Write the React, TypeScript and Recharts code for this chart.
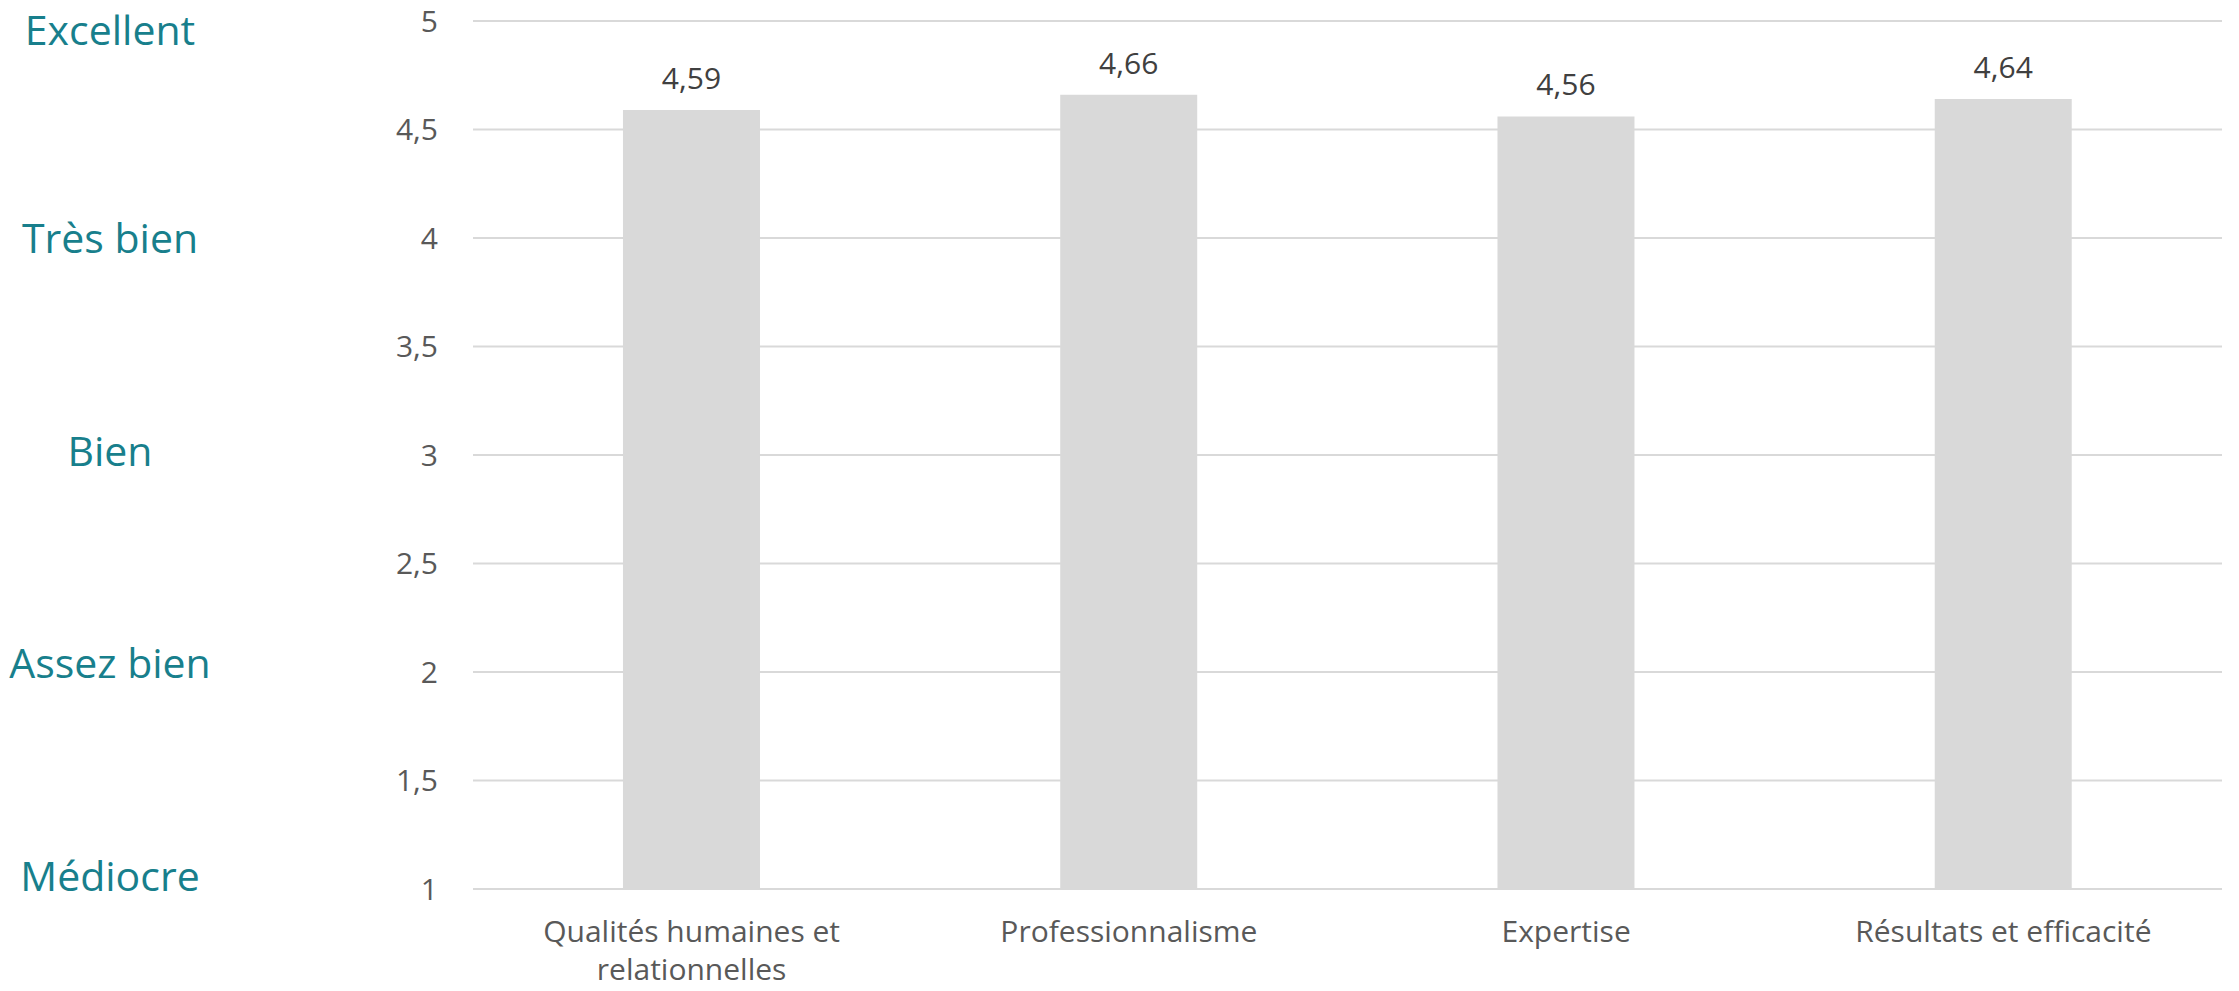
import React from "react";
import { BarChart, Bar, XAxis, YAxis, CartesianGrid, LabelList } from "recharts";

const categories = ["Qualités humaines et relationnelles", "Professionnalisme", "Expertise", "Résultats et efficacité"];
const scores = [4.59, 4.66, 4.56, 4.64];
const yTicks = [1, 1.5, 2, 2.5, 3, 3.5, 4, 4.5, 5];
const ratingLabels: Record<number, string> = {
  5: "Excellent",
  4: "Très bien",
  3: "Bien",
  2: "Assez bien",
  1: "Médiocre",
};

const data = categories.map((name, i) => ({ name, score: scores[i] }));

const FONT = "'Open Sans', sans-serif";
const TEAL = "#187f8c";
const fmt = (v: number) => String(v).replace(".", ",");

// greedy word wrap on character count (Excel wraps the long label after "et")
function wrap(label: string, maxChars = 24) {
  const lines: string[] = [];
  let cur = "";
  for (const w of label.split(" ")) {
    const next = cur ? cur + " " + w : w;
    if (next.length > maxChars && cur) {
      lines.push(cur);
      cur = w;
    } else {
      cur = next;
    }
  }
  if (cur) lines.push(cur);
  return lines;
}

function YTick({ x, y, payload }: any) {
  const v = payload.value as number;
  const word = ratingLabels[v];
  // rating words sit a little off the gridlines, like the separate text boxes in the original
  const wy = Math.max(y + (v - 3) * 4.5 - 4, 30);
  return (
    <g>
      <text x={x} y={y} dy="0.36em" textAnchor="end" fill="#595959" fontSize={30} fontFamily={FONT}>
        {fmt(v)}
      </text>
      {word && (
        <text x={110} y={wy} dy="0.36em" textAnchor="middle" fill={TEAL} fontSize={41} fontFamily={FONT}>
          {word}
        </text>
      )}
    </g>
  );
}

function XTick({ x, y, payload }: any) {
  const lines = wrap(payload.value);
  return (
    <text x={x} y={y + 45} textAnchor="middle" fill="#595959" fontSize={30} fontFamily={FONT}>
      {lines.map((l, i) => (
        <tspan key={i} x={x} dy={i === 0 ? 0 : 38}>
          {l}
        </tspan>
      ))}
    </text>
  );
}

export default function App() {
  return (
    <div style={{ position: "fixed", left: 0, top: 0, background: "#fff" }}>
      <BarChart
        width={2239}
        height={991}
        data={data}
        margin={{ top: 21, right: 17, bottom: 0, left: 0 }}
        barCategoryGap="34.3%"
      >
        <CartesianGrid vertical={false} stroke="#d9d9d9" strokeWidth={2} />
        <XAxis
          dataKey="name"
          axisLine={false}
          tickLine={false}
          height={102}
          interval={0}
          tick={(p: any) => <XTick x={p.x} y={p.y} payload={p.payload} />}
        />
        <YAxis
          domain={[1, 5]}
          ticks={yTicks}
          width={473}
          axisLine={false}
          tickLine={false}
          tickSize={0}
          tickMargin={35}
          tick={(p: any) => <YTick x={p.x} y={p.y} payload={p.payload} />}
        />
        <Bar dataKey="score" fill="#d9d9d9" isAnimationActive={false}>
          <LabelList
            dataKey="score"
            position="top"
            offset={21}
            fill="#404040"
            fontSize={30}
            fontFamily={FONT}
            formatter={(v: any) => Number(v).toFixed(2).replace(".", ",")}
          />
        </Bar>
      </BarChart>
    </div>
  );
}
